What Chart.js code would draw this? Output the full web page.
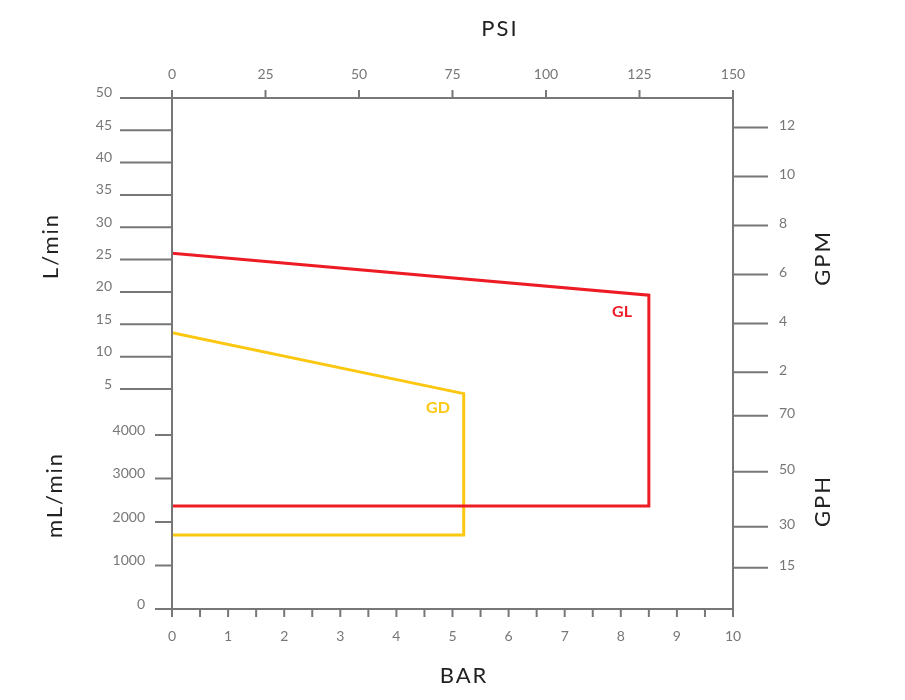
<!DOCTYPE html>
<html>
<head>
<meta charset="utf-8">
<script src="https://cdn.jsdelivr.net/npm/chart.js@4"></script>
<style>
  html, body { margin: 0; padding: 0; background: #fff; }
  #wrap { width: 905px; height: 700px; }
</style>
</head>
<body>
<div id="wrap"><canvas id="chart"></canvas></div>
<script>
// flow in mL/min, pressure in bar
const glBar = [0, 8.5, 8.5, 0];
const glFlow = [26000, 19500, 2370, 2370];
const gdBar = [0, 5.2, 5.2, 0];
const gdFlow = [13700, 4900, 1700, 1700];

const barTicks = [0, 1, 2, 3, 4, 5, 6, 7, 8, 9, 10];
const psiTicks = [0, 25, 50, 75, 100, 125, 150];
const lminTicks = [5, 10, 15, 20, 25, 30, 35, 40, 45, 50];
const mlminTicks = [0, 1000, 2000, 3000, 4000];
const gpmTicks = [2, 4, 6, 8, 10, 12];
const gphTicks = [15, 30, 50, 70];

// the left axis is split: mL/min below, L/min above
function toV(ml) {
  if (ml <= 4000) return ml * 0.0435;
  if (ml <= 5000) return 174 + (ml - 4000) / 1000 * 46;
  return 220 + (ml / 1000 - 5) * 6.47;
}

const GREY = "#77777a";
const FONT = "Lato, 'Open Sans', sans-serif";

const axesPlugin = {
  id: "axes",
  afterDraw(chart) {
    const c = chart.ctx;
    const x = chart.scales.x, y = chart.scales.y, x2 = chart.scales.x2;
    const L = x.getPixelForValue(0), R = x.getPixelForValue(10);
    const T = y.getPixelForValue(511), B = y.getPixelForValue(0);
    c.save();
    c.strokeStyle = GREY;
    c.fillStyle = GREY;
    c.lineWidth = 2;
    c.beginPath();
    c.moveTo(L, T - 8); c.lineTo(L, B + 1);
    c.moveTo(R, T - 8); c.lineTo(R, B + 1);
    c.moveTo(120, T); c.lineTo(R, T);
    c.moveTo(155, B); c.lineTo(R, B);
    c.stroke();

    c.font = "14px " + FONT;
    // bottom bar ticks
    c.textAlign = "center"; c.textBaseline = "middle";
    for (let v = 0; v <= 10; v += 0.5) {
      const px = x.getPixelForValue(v);
      c.beginPath(); c.moveTo(px, B); c.lineTo(px, B + 8); c.stroke();
    }
    barTicks.forEach(v => c.fillText(String(v), x.getPixelForValue(v), 636));
    // top psi ticks
    psiTicks.forEach(v => {
      const px = x2.getPixelForValue(v);
      c.beginPath(); c.moveTo(px, T); c.lineTo(px, T - 8); c.stroke();
      c.fillText(String(v), px, 74);
    });
    // left L/min
    c.textAlign = "right";
    lminTicks.forEach(v => {
      const py = y.getPixelForValue(toV(v * 1000));
      if (v !== 50) { c.beginPath(); c.moveTo(120, py); c.lineTo(L, py); c.stroke(); }
      c.fillText(String(v), 112, py - 5);
    });
    mlminTicks.forEach(v => {
      const py = y.getPixelForValue(toV(v));
      c.beginPath(); c.moveTo(155, py); c.lineTo(L, py); c.stroke();
      c.fillText(String(v), 145, py - 5);
    });
    // right GPM / GPH
    c.textAlign = "left";
    const right = (v, ml) => {
      const py = y.getPixelForValue(toV(ml));
      c.beginPath(); c.moveTo(R, py); c.lineTo(R + 35, py); c.stroke();
      c.fillText(String(v), 779, py - 2);
    };
    gpmTicks.forEach(v => right(v, v * 3785.4));
    gphTicks.forEach(v => right(v, v * 3785.4 / 60));

    // titles
    c.font = "22px " + FONT;
    c.textAlign = "center";
    c.letterSpacing = "2px";
    c.fillStyle = "#222";
    c.fillText("PSI", 500, 29);
    c.fillText("BAR", 464, 676);
    const rot = (t, px, py) => {
      c.save(); c.translate(px, py); c.rotate(-Math.PI / 2); c.fillText(t, 0, 0); c.restore();
    };
    rot("L/min", 51, 246);
    rot("mL/min", 55, 495);
    rot("GPM", 823, 258);
    rot("GPH", 823, 501);
    c.letterSpacing = "0px";

    c.font = "bold 16px " + FONT;
    c.fillStyle = "#ed1c24";
    c.fillText("GL", 622, 312);
    c.fillStyle = "#fcc711";
    c.fillText("GD", 438, 408);
    c.restore();
  }
};

new Chart(document.getElementById("chart"), {
  type: "scatter",
  data: {
    datasets: [
      { label: "GL", data: glBar.map((b, i) => ({ x: b, y: toV(glFlow[i]) })),
        borderColor: "#ed1c24" },
      { label: "GD", data: gdBar.map((b, i) => ({ x: b, y: toV(gdFlow[i]) })),
        borderColor: "#fcc711" }
    ].map(d => Object.assign(d, { showLine: true, borderWidth: 3, pointRadius: 0, borderJoinStyle: "miter" }))
  },
  options: {
    responsive: true,
    maintainAspectRatio: false,
    animation: false,
    layout: { padding: { left: 172, right: 172, top: 98, bottom: 91 } },
    plugins: { legend: { display: false }, tooltip: { enabled: false } },
    scales: {
      x: { type: "linear", min: 0, max: 10, display: false },
      x2: { type: "linear", min: 0, max: 150, display: false, position: "top" },
      y: { type: "linear", min: 0, max: 511, display: false }
    }
  },
  plugins: [axesPlugin]
});
</script>
</body>
</html>
